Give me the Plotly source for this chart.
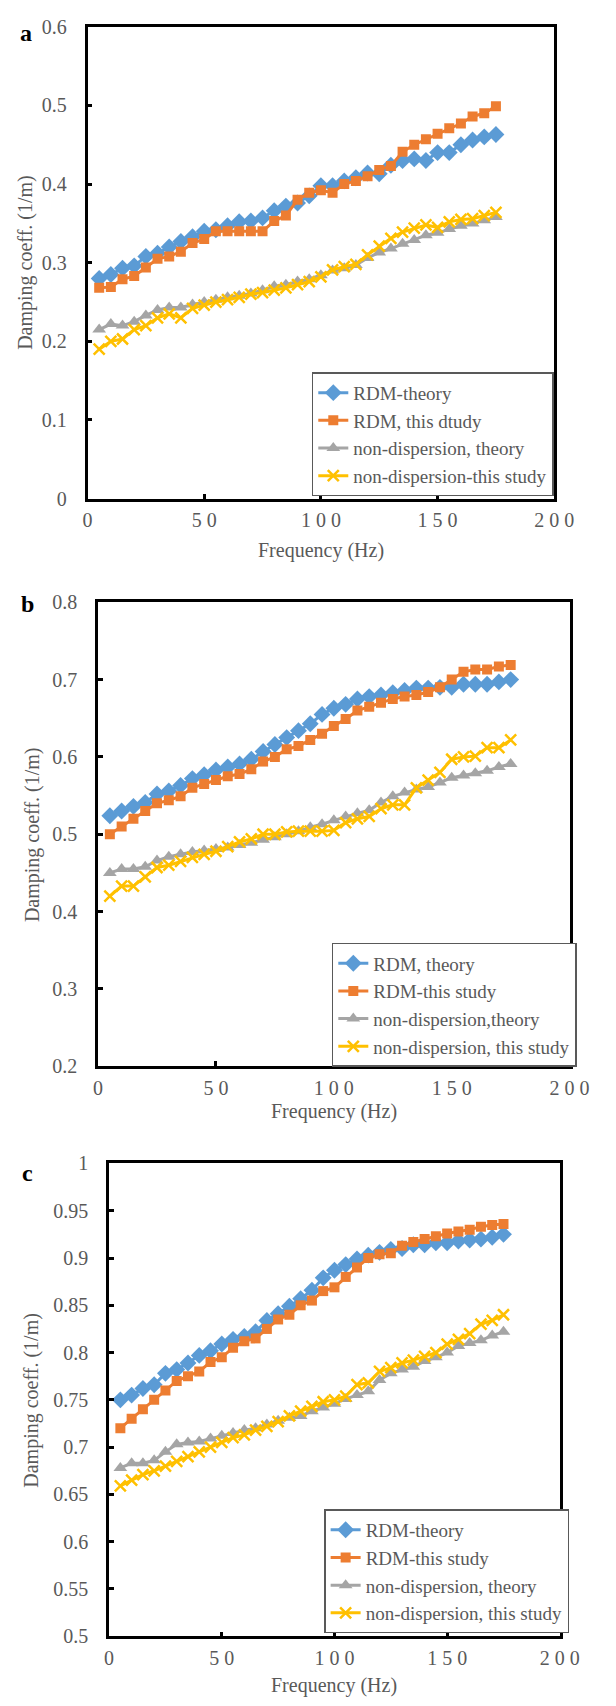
import plotly.graph_objects as go

# ---------------- data ----------------
freq = [5, 10, 15, 20, 25, 30, 35, 40, 45, 50, 55, 60, 65, 70, 75, 80, 85, 90,
        95, 100, 105, 110, 115, 120, 125, 130, 135, 140, 145, 150, 155, 160, 165, 170, 175]

# panel a
a_rdm_theory = [0.280, 0.285, 0.293, 0.296, 0.308, 0.312, 0.320, 0.327, 0.333, 0.340, 0.342, 0.347,
                0.352, 0.353, 0.357, 0.366, 0.372, 0.376, 0.385, 0.398, 0.398, 0.404, 0.408, 0.414,
                0.413, 0.424, 0.430, 0.432, 0.430, 0.440, 0.440, 0.450, 0.456, 0.460, 0.463]
a_rdm_study = [0.268, 0.269, 0.279, 0.283, 0.294, 0.305, 0.308, 0.314, 0.325, 0.330, 0.340, 0.340,
               0.340, 0.340, 0.340, 0.353, 0.360, 0.380, 0.389, 0.392, 0.389, 0.400, 0.404, 0.410,
               0.418, 0.423, 0.441, 0.450, 0.457, 0.464, 0.471, 0.477, 0.486, 0.490, 0.499]
a_nd_theory = [0.215, 0.222, 0.220, 0.225, 0.233, 0.240, 0.243, 0.243, 0.247, 0.250, 0.253, 0.256,
               0.258, 0.261, 0.265, 0.270, 0.272, 0.276, 0.279, 0.284, 0.290, 0.293, 0.297, 0.306,
               0.313, 0.318, 0.324, 0.329, 0.335, 0.338, 0.343, 0.347, 0.350, 0.354, 0.358]
a_nd_study = [0.190, 0.200, 0.203, 0.215, 0.220, 0.230, 0.235, 0.230, 0.242, 0.246, 0.250, 0.253,
              0.256, 0.260, 0.262, 0.265, 0.268, 0.272, 0.276, 0.282, 0.291, 0.295, 0.298, 0.310,
              0.321, 0.331, 0.339, 0.344, 0.348, 0.345, 0.352, 0.355, 0.356, 0.360, 0.364]

# panel b
b_rdm_theory = [0.524, 0.530, 0.536, 0.541, 0.552, 0.556, 0.563, 0.572, 0.577, 0.583, 0.587, 0.591,
                0.597, 0.607, 0.616, 0.625, 0.634, 0.643, 0.655, 0.663, 0.668, 0.675, 0.678, 0.680,
                0.683, 0.686, 0.689, 0.689, 0.690, 0.690, 0.694, 0.694, 0.694, 0.697, 0.700]
b_rdm_study = [0.500, 0.510, 0.520, 0.530, 0.540, 0.544, 0.549, 0.560, 0.565, 0.570, 0.575, 0.578,
               0.584, 0.594, 0.600, 0.610, 0.614, 0.622, 0.630, 0.640, 0.649, 0.660, 0.665, 0.670,
               0.675, 0.678, 0.680, 0.684, 0.690, 0.700, 0.710, 0.713, 0.713, 0.717, 0.719]
b_nd_theory = [0.450, 0.455, 0.455, 0.458, 0.466, 0.471, 0.474, 0.477, 0.479, 0.481, 0.483, 0.486,
               0.489, 0.493, 0.496, 0.500, 0.504, 0.509, 0.513, 0.518, 0.523, 0.527, 0.531, 0.541,
               0.549, 0.554, 0.558, 0.561, 0.567, 0.573, 0.576, 0.579, 0.582, 0.587, 0.591]
b_nd_study = [0.420, 0.433, 0.433, 0.445, 0.457, 0.460, 0.465, 0.470, 0.474, 0.478, 0.484, 0.490,
              0.494, 0.500, 0.500, 0.503, 0.504, 0.504, 0.504, 0.505, 0.515, 0.520, 0.523, 0.533,
              0.538, 0.538, 0.560, 0.570, 0.580, 0.597, 0.600, 0.601, 0.612, 0.612, 0.622]

# panel c
c_rdm_theory = [0.750, 0.755, 0.762, 0.766, 0.778, 0.782, 0.789, 0.797, 0.802, 0.809, 0.814, 0.817,
                0.822, 0.834, 0.841, 0.849, 0.857, 0.866, 0.879, 0.887, 0.893, 0.899, 0.903, 0.906,
                0.909, 0.910, 0.914, 0.914, 0.916, 0.916, 0.918, 0.919, 0.920, 0.922, 0.925]
c_rdm_study = [0.720, 0.730, 0.740, 0.750, 0.760, 0.770, 0.775, 0.780, 0.790, 0.795, 0.805, 0.812,
               0.815, 0.825, 0.835, 0.840, 0.850, 0.855, 0.865, 0.869, 0.880, 0.890, 0.900, 0.904,
               0.905, 0.913, 0.917, 0.920, 0.923, 0.926, 0.928, 0.930, 0.933, 0.935, 0.936]
c_nd_theory = [0.678, 0.683, 0.683, 0.686, 0.695, 0.703, 0.705, 0.706, 0.709, 0.712, 0.715, 0.718,
               0.720, 0.724, 0.728, 0.731, 0.733, 0.738, 0.742, 0.746, 0.751, 0.755, 0.759, 0.771,
               0.778, 0.782, 0.785, 0.791, 0.795, 0.800, 0.807, 0.810, 0.813, 0.818, 0.822]
c_nd_study = [0.659, 0.665, 0.671, 0.675, 0.680, 0.685, 0.690, 0.695, 0.700, 0.705, 0.710, 0.713,
              0.718, 0.722, 0.727, 0.733, 0.738, 0.743, 0.748, 0.750, 0.754, 0.766, 0.768, 0.780,
              0.784, 0.789, 0.792, 0.796, 0.800, 0.809, 0.814, 0.820, 0.830, 0.834, 0.840]

names_a = ["RDM-theory", "RDM, this dtudy", "non-dispersion, theory", "non-dispersion-this study"]
names_b = ["RDM, theory", "RDM-this study", "non-dispersion,theory", "non-dispersion, this study"]
names_c = ["RDM-theory", "RDM-this study", "non-dispersion, theory", "non-dispersion, this study"]

x_tickvals = [0, 50, 100, 150, 200]
x_ticktext = ["0", "5 0", "1 0 0", "1 5 0", "2 0 0"]

a_yticks = [0, 0.1, 0.2, 0.3, 0.4, 0.5, 0.6]
a_yticktext = ["0", "0.1", "0.2", "0.3", "0.4", "0.5", "0.6"]
b_yticks = [0.2, 0.3, 0.4, 0.5, 0.6, 0.7, 0.8]
b_yticktext = ["0.2", "0.3", "0.4", "0.5", "0.6", "0.7", "0.8"]
c_yticks = [0.5, 0.55, 0.6, 0.65, 0.7, 0.75, 0.8, 0.85, 0.9, 0.95, 1.0]
c_yticktext = ["0.5", "0.55", "0.6", "0.65", "0.7", "0.75", "0.8", "0.85", "0.9", "0.95", "1"]

x_title = "Frequency (Hz)"
y_title = "Damping coeff. (1/m)"
panel_letters = ["a", "b", "c"]

# ---------------- style ----------------
W, H = 616, 1706
FONT = "Liberation Serif"
TXT = "#595959"
colors = ["#5B9BD5", "#ED7D31", "#A5A5A5", "#FFC000"]
symbols = ["diamond", "square", "triangle-up", "x-thin"]
msizes = [13, 10, 12, 11]


def px_x(p):
    return p / W


def px_y(p):
    return 1 - p / H


# plot-area boxes (left, top, right, bottom) in pixels
boxes = [(86, 16, 572.5, 494), (97, 599, 588.5, 1069), (108.5, 1167.5, 578.3, 1646.5)]
legend_boxes = [(572, 366), (596, 944), (588, 1518)]
y_title_x = [22, 28, 28]
x_title_off = [53, 46, 50]
letter_pos = [(22, 22), (23, 601), (23, 1177)]

panels = [
    ([a_rdm_theory, a_rdm_study, a_nd_theory, a_nd_study], names_a, a_yticks, a_yticktext),
    ([b_rdm_theory, b_rdm_study, b_nd_theory, b_nd_study], names_b, b_yticks, b_yticktext),
    ([c_rdm_theory, c_rdm_study, c_nd_theory, c_nd_study], names_c, c_yticks, c_yticktext),
]

fig = go.Figure()
annotations = []
layout = {}

for i, (series, names, ytv, ytt) in enumerate(panels):
    sfx = "" if i == 0 else str(i + 1)
    legname = "legend" + sfx
    for j, ys in enumerate(series):
        marker = dict(symbol=symbols[j], size=msizes[j], color=colors[j])
        if symbols[j] == "x-thin":
            marker["line"] = dict(width=2.5, color=colors[j])
        fig.add_trace(go.Scatter(
            x=freq, y=ys, name=names[j], mode="lines+markers",
            line=dict(color=colors[j], width=3), marker=marker,
            xaxis="x" + sfx, yaxis="y" + sfx, legend=legname,
        ))
    L, T, R, B = boxes[i]
    layout["xaxis" + sfx] = dict(
        domain=[px_x(L), px_x(R)], anchor="y" + sfx, range=[0, 200],
        tickvals=x_tickvals, ticktext=x_ticktext, ticks="inside", ticklen=5, tickwidth=2.5,
        tickcolor="black", showline=True, linecolor="black", linewidth=2.5, mirror=True,
        showgrid=False, zeroline=False, tickfont=dict(family=FONT, size=20, color=TXT),
        ticklabelstandoff=2,
    )
    layout["yaxis" + sfx] = dict(
        domain=[px_y(B), px_y(T)], anchor="x" + sfx, range=[ytv[0], ytv[-1]],
        tickvals=ytv, ticktext=ytt, ticks="inside", ticklen=5, tickwidth=2.5,
        tickcolor="black", showline=True, linecolor="black", linewidth=2.5, mirror=True,
        showgrid=False, zeroline=False, tickfont=dict(family=FONT, size=20, color=TXT),
        ticklabelstandoff=14,
    )
    lx, ly = legend_boxes[i]
    layout[legname] = dict(
        x=px_x(lx), y=px_y(ly), xanchor="right", yanchor="top",
        bgcolor="white", bordercolor="#595959", borderwidth=1.5,
        font=dict(family=FONT, size=19, color=TXT), tracegroupgap=0,
    )
    annotations.append(dict(
        text=x_title, xref="paper", yref="paper", x=px_x((L + R) / 2), y=px_y(B + x_title_off[i]),
        xanchor="center", yanchor="middle", showarrow=False,
        font=dict(family=FONT, size=20, color=TXT),
    ))
    annotations.append(dict(
        text=y_title, xref="paper", yref="paper", x=px_x(y_title_x[i]), y=px_y((T + B) / 2),
        xanchor="center", yanchor="middle", textangle=-90, showarrow=False,
        font=dict(family=FONT, size=20, color=TXT),
    ))
    annotations.append(dict(
        text="<b>" + panel_letters[i] + "</b>", xref="paper", yref="paper",
        x=px_x(letter_pos[i][0]), y=px_y(letter_pos[i][1]), xanchor="center", yanchor="middle",
        showarrow=False, font=dict(family=FONT, size=24, color="black"),
    ))

fig.update_layout(
    width=W, height=H, margin=dict(l=0, r=0, t=0, b=0),
    paper_bgcolor="white", plot_bgcolor="white", showlegend=True,
    font=dict(family=FONT, color=TXT),
    annotations=annotations, **layout,
)

fig.write_html("out.html")
